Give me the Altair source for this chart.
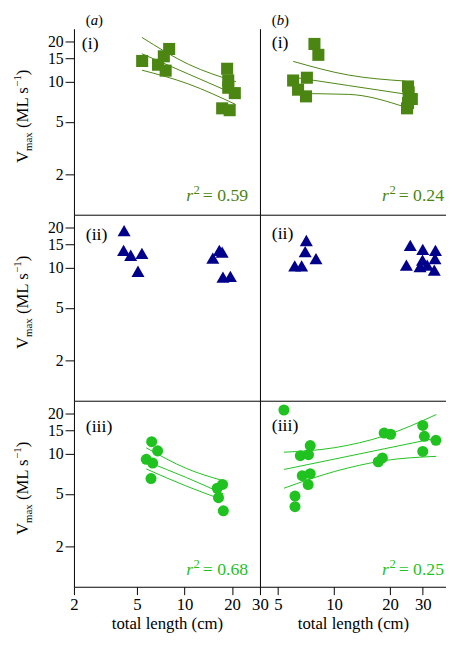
import altair as alt
import pandas as pd

FONT = "Liberation Serif"
FS = 18
XFS = 17
YFS = 16
OLIVE = "#4b8512"
NAVY = "#00008b"
GREEN = "#1fc21f"
W = 189
H = 189

# ---------------- data ----------------
# row (i): squares
a1_x = [5.4, 6.8, 7.4, 8.0, 7.6, 18.6, 18.9, 18.9, 20.8, 17.3, 19.3]
a1_y = [14.3, 13.4, 15.5, 17.6, 12.1, 12.5, 10.2, 9.0, 8.2, 6.3, 6.1]
b1_x = [7.85, 8.24, 6.03, 7.15, 6.41, 7.07, 25.0, 25.2, 26.2, 25.0, 24.7]
b1_y = [19.2, 15.9, 10.2, 10.7, 8.7, 7.75, 9.2, 8.3, 7.4, 6.9, 6.3]
# row (ii): triangles
a2_x = [4.15, 4.12, 4.57, 5.38, 5.08, 16.6, 17.3, 15.1, 17.5, 19.5]
a2_y = [19.0, 13.5, 12.4, 12.8, 9.4, 13.5, 13.1, 11.8, 8.5, 8.6]
b2_x = [7.1, 7.0, 8.0, 6.15, 6.7, 25.7, 30.0, 35.1, 24.5, 29.9, 34.9, 29.0, 31.7, 34.6]
b2_y = [16.0, 13.2, 11.7, 10.3, 10.3, 14.7, 13.7, 13.5, 10.45, 11.4, 11.7, 10.2, 10.45, 9.6]
# row (iii): circles
a3_x = [6.2, 6.76, 5.73, 6.29, 6.14, 17.4, 16.1, 16.4, 17.6]
a3_y = [12.3, 10.5, 9.07, 8.5, 6.5, 5.87, 5.5, 4.67, 3.72]
b3_x = [5.38, 7.45, 6.59, 7.29, 6.75, 7.45, 7.26, 6.17, 6.17, 18.6, 20.15, 17.3, 18.2, 30.0, 30.6, 35.3, 30.0]
b3_y = [21.3, 11.5, 9.66, 9.83, 6.84, 7.07, 5.86, 4.8, 4.0, 14.3, 14.0, 8.7, 9.3, 16.3, 13.5, 12.6, 10.4]

# fitted lines with confidence limits (x, upper, fit, lower)
a1_fx = [5.38, 10.6, 21.1]
a1_hi = [21.5, 13.5, 10.0]
a1_mid = [16.2, 11.4, 7.98]
a1_lo = [12.2, 9.6, 6.73]
b1_fx = [6.03, 12.0, 24.2]
b1_hi = [14.2, 11.2, 10.1]
b1_mid = [10.8, 9.34, 8.06]
b1_lo = [8.15, 8.02, 6.43]
a3_fx = [5.73, 10.3, 17.6]
a3_hi = [11.07, 7.74, 6.26]
a3_mid = [8.75, 6.61, 4.99]
a3_lo = [7.68, 5.7, 4.49]
b3_fx = [5.38, 10.1, 18.6, 35.5]
b3_hi = [10.26, 11.1, 13.6, 19.7]
b3_mid = [7.61, 9.12, 10.88, 13.1]
b3_lo = [5.5, 7.36, 8.87, 9.55]

R2 = {"a1": "0.59", "b1": "0.24", "a3": "0.68", "b3": "0.25"}

XDOM_A = [2, 30]
XDOM_B = [4, 40]
YDOM = [1, 25]
XTICKS_A = [2, 5, 10, 20, 30]
XTICKS_B = [5, 10, 20, 30]
YTICKS = [2, 5, 10, 15, 20]
X_TITLE = "total length (cm)"
# y title pieces: (text, font size, baseline shift, advance) -> "V_max (ML s^-1)"
Y_TITLE_PARTS = [("V", 17, 0, 12.3), ("max", 11, 4, 18.9 + 4.3), ("(ML s", 17, 0, 42.0),
                 ("\u22121", 11, -7, 11.7), (")", 17, 0, 5.7)]


def txt(s, x, y, **kw):
    return alt.Chart(pd.DataFrame({"t": [s]})).mark_text(
        font=FONT, **kw).encode(text="t:N", x=alt.value(x), y=alt.value(y))


def y_title_layers():
    out = []
    base_x = -47
    yc = 89
    y = yc + sum(p[3] for p in Y_TITLE_PARTS) / 2
    for s, fs, shift, ln in Y_TITLE_PARTS:
        out.append(txt(s, base_x + shift, y, align="left", baseline="alphabetic",
                       angle=270, fontSize=fs, color="black"))
        y -= ln
    out.append(alt.Chart(pd.DataFrame({"t": [0]})).mark_rule(strokeOpacity=0).encode(
        x=alt.value(-67), y=alt.value(0), y2=alt.value(1)))
    return out


def panel(xs, ys, shape, size, color, xdom, xticks, bottom, left, tag, tagx, tagy,
          fit=None, r2=None, r2_right=None, r2_base=None, head=None):
    if bottom:
        xax = alt.Axis(values=xticks, format="d", title=X_TITLE, tickSize=8,
                       labelPadding=2, titlePadding=3, labelFlush=False, labelOverlap=False,
                       labelFontSize=XFS, titleFontSize=XFS)
    else:
        xax = alt.Axis(labels=False, ticks=False, title=None)
    if left:
        yax = alt.Axis(values=YTICKS, format="d", title=None, tickSize=9,
                       labelPadding=2, labelFlush=False, labelOverlap=False,
                       labelFontSize=YFS)
    else:
        yax = alt.Axis(labels=False, ticks=False, title=None, minExtent=0, maxExtent=0)
    xenc = alt.X("x:Q", scale=alt.Scale(type="log", domain=xdom, nice=False), axis=xax)
    yenc = alt.Y("y:Q", scale=alt.Scale(type="log", domain=YDOM, nice=False), axis=yax)
    layers = []
    if fit is not None:
        fx, hi, mid, lo = fit
        rows = []
        for name, vals in (("hi", hi), ("mid", mid), ("lo", lo)):
            for xv, yv in zip(fx, vals):
                rows.append({"x": xv, "y": yv, "g": name})
        layers.append(alt.Chart(pd.DataFrame(rows)).mark_line(
            color=color, strokeWidth=1, interpolate="monotone").encode(
            x=xenc, y=yenc, detail="g:N"))
    layers.append(alt.Chart(pd.DataFrame({"x": xs, "y": ys})).mark_point(
        shape=shape, filled=True, size=size, color=color, opacity=1).encode(x=xenc, y=yenc))
    layers.append(txt(tag, tagx, tagy, align="left", baseline="middle", fontSize=FS, color="black"))
    if left:
        layers.extend(y_title_layers())
    if r2 is not None:
        layers.append(txt("= " + r2, r2_right, r2_base, align="right", baseline="alphabetic",
                          fontSize=FS, color=color))
        layers.append(txt("2", r2_right - 49, r2_base - 7, align="right", baseline="alphabetic",
                          fontSize=13, color=color))
        layers.append(txt("r", r2_right - 56, r2_base, align="right", baseline="alphabetic",
                          fontSize=FS, fontStyle="italic", color=color))
    if head is not None:
        hs = 15
        layers.append(txt("(", 12, -9, align="left", baseline="middle", fontSize=hs, color="black"))
        layers.append(txt(head, 17.0, -9, align="left", baseline="middle", fontSize=hs,
                          fontStyle="italic", color="black"))
        layers.append(txt(")", 24.5, -9, align="left", baseline="middle", fontSize=hs, color="black"))
    return alt.layer(*layers).properties(width=W, height=H)


p_a1 = panel(a1_x, a1_y, "square", 150, OLIVE, XDOM_A, XTICKS_A, False, True, "(i)", 8, 16,
             fit=(a1_fx, a1_hi, a1_mid, a1_lo), r2=R2["a1"], r2_right=W - 12, r2_base=H - 14, head="a")
p_b1 = panel(b1_x, b1_y, "square", 150, OLIVE, XDOM_B, XTICKS_B, False, False, "(i)", 12, 15,
             fit=(b1_fx, b1_hi, b1_mid, b1_lo), r2=R2["b1"], r2_right=W - 2, r2_base=H - 14, head="b")
p_a2 = panel(a2_x, a2_y, "triangle-up", 175, NAVY, XDOM_A, XTICKS_A, False, True, "(ii)", 12, 21)
p_b2 = panel(b2_x, b2_y, "triangle-up", 175, NAVY, XDOM_B, XTICKS_B, False, False, "(ii)", 12, 20)
p_a3 = panel(a3_x, a3_y, "circle", 125, GREEN, XDOM_A, XTICKS_A, True, True, "(iii)", 12, 27,
             fit=(a3_fx, a3_hi, a3_mid, a3_lo), r2=R2["a3"], r2_right=W - 12, r2_base=H - 12)
p_b3 = panel(b3_x, b3_y, "circle", 125, GREEN, XDOM_B, XTICKS_B, True, False, "(iii)", 12, 26,
             fit=(b3_fx, b3_hi, b3_mid, b3_lo), r2=R2["b3"], r2_right=W - 2, r2_base=H - 12)

chart = alt.concat(p_a1, p_b1, p_a2, p_b2, p_a3, p_b3, columns=2, spacing=0,
                   bounds="flush").properties(
    padding={"top": 0, "left": 0, "right": 0, "bottom": 0},
    autosize=alt.AutoSizeParams(type="pad")).configure_view(
    stroke=None).configure_axis(
    grid=False, domainColor="black", tickColor="black", domainWidth=1, tickWidth=1,
    labelFont=FONT, titleFont=FONT, labelFontSize=FS, titleFontSize=FS,
    labelColor="black", titleColor="black", titleFontWeight="normal")

chart.save("out.html", embed_options={"renderer": "svg", "actions": False})
